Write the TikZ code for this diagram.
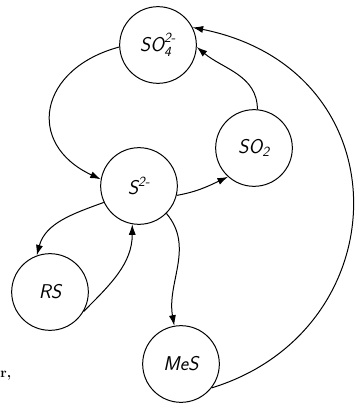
\documentclass[tikz,border=0pt]{standalone}
\usepackage{amsmath}
\usepackage{tikz}
\usetikzlibrary{arrows.meta, positioning}

\begin{document}
\begin{tikzpicture}[x=0.03cm, y=-0.03cm, >={Latex[length=9pt,width=6pt]}, line width=0.85pt,
    species/.style={draw, circle, minimum size=2.3cm, inner sep=0pt, font=\fontsize{17}{19}\selectfont\sffamily\slshape},
    flow/.style={->, line width=0.85pt}]

\useasboundingbox (0,0) rectangle (356,404);

\node[species] (so4) at (158,45) {$\textsl{SO}_{\textsl{4}}^{\textsl{2-}}$};
\node[species] (so2) at (254,148) {$\textsl{SO}_{\textsl{2}}$};
\node[species] (s) at (139,186) {$\textsl{S}^{\textsl{2-}}$};
\node[species] (rs) at (50,292) {RS};
\node[species] (mes) at (181,364) {MeS};
\node[anchor=west, inner sep=0pt, font=\large\bfseries] (frag) at (0,376) {r,};

\draw[flow] (so4.183) to[out=195, in=155, looseness=1.6] (s.170);
\draw[flow] (s.-14) to[out=10, in=205] (so2.228);
\draw[flow] (so2.85) to[out=90, in=-40] (so4.-3);
\draw[flow] (mes.-38) .. controls (400,330) and (405,70) .. (so4.27);
\draw[flow] (s.205) to[out=200, in=75] (rs.110);
\draw[flow] (rs.-30) to[out=45, in=-90] (s.-100);
\draw[flow] (s.-45) to[out=-50, in=100] (mes.100);
\end{tikzpicture}
\end{document}
